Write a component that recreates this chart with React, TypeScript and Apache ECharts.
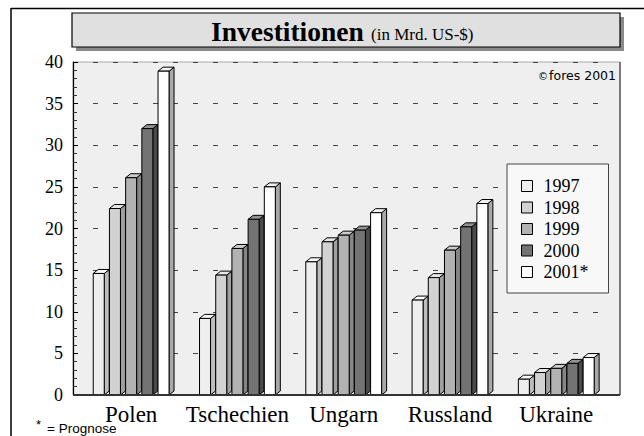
import React, { useEffect, useRef } from "react";
import * as echarts from "echarts";

const categories = ["Polen", "Tschechien", "Ungarn", "Russland", "Ukraine"];
const years = ["1997", "1998", "1999", "2000", "2001*"];
const v1997 = [14.6, 9.2, 16.0, 11.4, 1.9];
const v1998 = [22.4, 14.4, 18.4, 14.1, 2.7];
const v1999 = [26.1, 17.6, 19.2, 17.4, 3.2];
const v2000 = [32.0, 21.1, 19.8, 20.2, 3.8];
const v2001 = [38.9, 25.0, 21.9, 23.0, 4.5];
const seriesValues = [v1997, v1998, v1999, v2000, v2001];
const yTicks = { min: 0, max: 40, interval: 5 };

const fronts = ["#eeeeee", "#d2d2d2", "#b2b2b2", "#737373", "#ffffff"];
const tops = ["#ffffff", "#e6e6e6", "#cccccc", "#939393", "#f2f2f2"];
const sides = ["#bdbdbd", "#a0a0a0", "#858585", "#4a4a4a", "#a8a8a8"];

export default function App() {
  const ref = useRef<HTMLDivElement>(null);
  useEffect(() => {
    if (!ref.current) return;
    const chart = echarts.init(ref.current, null, { renderer: "svg" });
    const dx = 5;
    const dy = 4;
    const series = seriesValues.map((vals, s) => ({
      type: "custom",
      name: years[s],
      itemStyle: { color: fronts[s], borderColor: "#000", borderWidth: 1 },
      encode: { x: 0, y: 1 },
      data: vals.map((v, i) => [i, v]),
      renderItem: (params: any, api: any) => {
        const ci = api.value(0);
        const v = api.value(1);
        const base = api.coord([ci, 0]);
        const top = api.coord([ci, v]);
        const bw = api.size([1, 0])[0];
        const p = bw * 0.1524;
        const w = bw * 0.1035;
        const x0 = base[0] + (s - 2) * p - w / 2;
        const x1 = x0 + w;
        const yT = top[1];
        const yB = base[1];
        return {
          type: "group",
          children: [
            {
              type: "polygon",
              shape: { points: [[x1, yT], [x1 + dx, yT - dy], [x1 + dx, yB - dy], [x1, yB]] },
              style: { fill: sides[s], stroke: "#000", lineWidth: 1 },
            },
            {
              type: "polygon",
              shape: { points: [[x0, yT], [x0 + dx, yT - dy], [x1 + dx, yT - dy], [x1, yT]] },
              style: { fill: tops[s], stroke: "#000", lineWidth: 1 },
            },
            {
              type: "rect",
              shape: { x: x0, y: yT, width: w, height: yB - yT },
              style: { fill: fronts[s], stroke: "#000", lineWidth: 1 },
            },
          ],
        };
      },
    }));

    chart.setOption({
      animation: false,
      backgroundColor: "#ffffff",
      grid: { left: 78, right: 34.6, top: 62, bottom: 41 },
      xAxis: {
        type: "category",
        data: categories,
        boundaryGap: true,
        axisLine: { show: false },
        axisTick: { show: false },
        axisLabel: {
          interval: 0,
          hideOverlap: false,
          margin: 8,
          fontFamily: "Liberation Serif",
          fontSize: 23,
          color: "#000",
        },
      },
      yAxis: {
        type: "value",
        min: yTicks.min,
        max: yTicks.max,
        interval: yTicks.interval,
        offset: 5,
        axisLine: { show: true, lineStyle: { color: "#000", width: 1.2 } },
        axisTick: { show: true, inside: true, length: 5, lineStyle: { color: "#000" } },
        minorTick: { show: true, splitNumber: 5, length: 4, lineStyle: { color: "#333" } },
        axisLabel: {
          margin: 10,
          fontFamily: "Liberation Serif",
          fontSize: 18,
          color: "#000",
        },
        splitLine: {
          show: true,
          lineStyle: { color: "#444", width: 1, type: [5, 15], dashOffset: 5 },
        },
      },
      legend: {
        orient: "vertical",
        left: 507,
        top: 164,
        padding: [13, 20, 12, 14],
        itemWidth: 11,
        itemHeight: 11,
        itemGap: 3.5,
        icon: "rect",
        backgroundColor: "#f8f8f8",
        borderColor: "#444",
        borderWidth: 1,
        itemStyle: { borderColor: "#000", borderWidth: 1 },
        textStyle: {
          fontFamily: "Liberation Serif",
          fontSize: 18,
          lineHeight: 18,
          color: "#000",
          padding: [0, 0, 0, 6],
        },
        data: years,
      },
      graphic: {
        elements: [
          {
            type: "rect",
            z: -10,
            silent: true,
            shape: { x: 73, y: 62, width: 547, height: 333 },
            style: { fill: "#efefef", stroke: "#aaaaaa", lineWidth: 1 },
          },
          {
            type: "line",
            z: 10,
            silent: true,
            shape: { x1: 620, y1: 62, x2: 620, y2: 395 },
            style: { stroke: "#222", lineWidth: 1 },
          },
          {
            type: "line",
            z: 10,
            silent: true,
            shape: { x1: 73, y1: 395, x2: 620, y2: 395 },
            style: { stroke: "#333", lineWidth: 2 },
          },
          {
            type: "rect",
            silent: true,
            shape: { x: 76, y: 17, width: 548, height: 34 },
            style: { fill: "#8a8a8a" },
          },
          {
            type: "rect",
            silent: true,
            shape: { x: 72, y: 13, width: 548, height: 34 },
            style: { fill: "#e0e0e0", stroke: "#000", lineWidth: 1.2 },
          },
          {
            type: "text",
            silent: true,
            style: {
              text: "Investitionen",
              x: 211,
              y: 31,
              align: "left",
              verticalAlign: "middle",
              font: "bold 27.5px 'Liberation Serif'",
              fill: "#000",
            },
          },
          {
            type: "text",
            silent: true,
            style: {
              text: "(in Mrd. US-$)",
              x: 371,
              y: 34,
              align: "left",
              verticalAlign: "middle",
              font: "17px 'Liberation Serif'",
              fill: "#000",
            },
          },
          {
            type: "text",
            silent: true,
            style: {
              text: "©",
              x: 538,
              y: 76,
              align: "left",
              verticalAlign: "middle",
              font: "10px 'DejaVu Sans'",
              fill: "#000",
            },
          },
          {
            type: "text",
            silent: true,
            style: {
              text: "fores 2001",
              x: 616,
              y: 75,
              align: "right",
              verticalAlign: "middle",
              font: "12.5px 'DejaVu Sans'",
              fill: "#000",
            },
          },
          {
            type: "text",
            silent: true,
            style: {
              text: "*",
              x: 36,
              y: 424,
              align: "left",
              verticalAlign: "middle",
              font: "13px 'Liberation Sans'",
              fill: "#000",
            },
          },
          {
            type: "text",
            silent: true,
            style: {
              text: "= Prognose",
              x: 47,
              y: 428,
              align: "left",
              verticalAlign: "middle",
              font: "13.5px 'Liberation Sans'",
              fill: "#000",
            },
          },
          {
            type: "line",
            silent: true,
            shape: { x1: 11, y1: 8.5, x2: 644, y2: 8.5 },
            style: { stroke: "#000", lineWidth: 1.5 },
          },
          {
            type: "line",
            silent: true,
            shape: { x1: 11, y1: 8, x2: 11, y2: 436 },
            style: { stroke: "#000", lineWidth: 1.5 },
          },
        ],
      },
      series,
    });
    return () => chart.dispose();
  }, []);
  return (
    <div
      ref={ref}
      style={{ position: "fixed", left: 0, top: 0, width: 644, height: 436 }}
    />
  );
}
